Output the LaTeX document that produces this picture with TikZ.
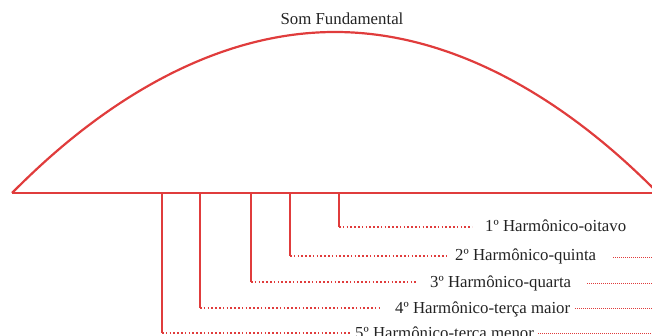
\documentclass[tikz,border=0pt]{standalone}
\usepackage{fontspec}
\setmainfont{Liberation Serif}
\definecolor{harmred}{RGB}{224,60,60}
\definecolor{txtgray}{RGB}{35,35,35}
\begin{document}
\begin{tikzpicture}[x=1pt,y=-1pt,
  curve/.style={draw=harmred,line width=2.2pt},
  stem/.style={draw=harmred,line width=1.6pt},
  lead/.style={draw=harmred,line width=1.3pt,dash pattern=on 1.6pt off 2.2pt},
  trail/.style={draw=harmred,line width=0.8pt,dash pattern=on 1pt off 1pt},
  lbl/.style={inner sep=0pt,anchor=base west,text=txtgray,font=\fontsize{16.8}{18}\selectfont}]
\clip (0,0) rectangle (652,336);
% arc and base
\coordinate (L) at (12,193);
\coordinate (T) at (335,32);
\coordinate (R) at (658,193);
\coordinate (Rb) at (660,193);
\draw[curve] (L) parabola bend (T) (R);
\draw[curve,line width=2pt] (L) -- (Rb);
\node[lbl,anchor=base] (title) at (342,25) {Som Fundamental};
% stems
\foreach \i/\x/\y in {1/339/227,2/290/256,3/251/282,4/200/308,5/162/333}{
  \coordinate (b\i) at (\x,193);
  \coordinate (c\i) at (\x,\y);
  \draw[stem] (b\i) -- (c\i);
}
% labels
\node[lbl] (h1) at (485,232) {1º Harmônico-oitavo};
\node[lbl] (h2) at (455,261) {2º Harmônico-quinta};
\node[lbl] (h3) at (430,287) {3º Harmônico-quarta};
\node[lbl] (h4) at (395,313) {4º Harmônico-terça maior};
\node[lbl] (h5) at (355,338) {5º Harmônico-terça menor};
% leading dotted lines
\draw[lead] (c1) -- (472,227);
\draw[lead] (c2) -- (448,256);
\draw[lead] (c3) -- (418,282);
\draw[lead] (c4) -- (382,308);
\draw[lead] (c5) -- (350,333);
% trailing dotted lines
\coordinate (e2) at (652,257);
\coordinate (e3) at (652,283);
\coordinate (e4) at (652,308);
\coordinate (e5) at (652,333);
\draw[trail] (613,257) -- (e2);
\draw[trail] (587,283) -- (e3);
\draw[trail] (575,308) -- (e4);
\draw[trail] (538,333) -- (e5);
\end{tikzpicture}
\end{document}
